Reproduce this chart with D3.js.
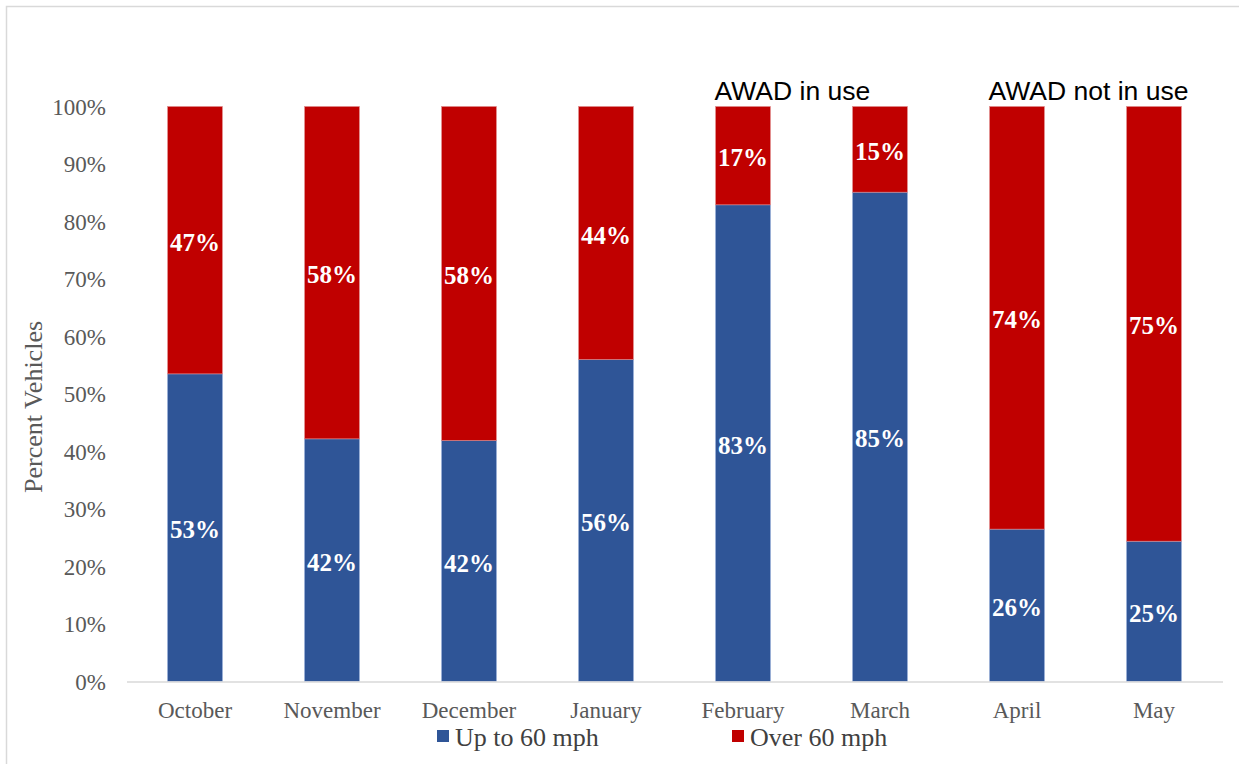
<!DOCTYPE html>
<html>
<head>
<meta charset="utf-8">
<script src="https://cdn.jsdelivr.net/npm/d3@7"></script>
<style>
  html, body { margin: 0; padding: 0; background: #fff; }
  svg { display: block; }
</style>
</head>
<body>
<svg id="chart" width="1239" height="764"></svg>
<script>
const categories = ["October", "November", "December", "January", "February", "March", "April", "May"];
const upTo60 = [53.5, 42.2, 41.9, 56.0, 82.9, 85.1, 26.5, 24.4];
const over60 = [46.5, 57.8, 58.1, 44.0, 17.1, 14.9, 73.5, 75.6];
const upLabels = ["53%", "42%", "42%", "56%", "83%", "85%", "26%", "25%"];
const overLabels = ["47%", "58%", "58%", "44%", "17%", "15%", "74%", "75%"];
const seriesNames = ["Up to 60 mph", "Over 60 mph"];
const yTicks = [0, 10, 20, 30, 40, 50, 60, 70, 80, 90, 100];
const annotations = [
  { text: "AWAD in use", category: "February" },
  { text: "AWAD not in use", category: "April" }
];

const colors = { up: "#2F5597", over: "#C00000" };
const serif = "'Liberation Serif', 'Times New Roman', serif";
const sans = "'Liberation Sans', Arial, sans-serif";

const svg = d3.select("#chart");

// outer chart border
svg.append("rect")
  .attr("x", 6.5).attr("y", 6.5)
  .attr("width", 1250).attr("height", 780)
  .attr("fill", "#fff").attr("stroke", "#d9d9d9").attr("stroke-width", 1.5);

const x = d3.scaleBand()
  .domain(categories)
  .range([126.5, 1222.5])
  .paddingInner(0.6)
  .paddingOuter(0.3);

const y = d3.scaleLinear().domain([0, 100]).range([681.5, 106.5]);

const data = categories.map((c, i) => ({
  cat: c, up: upTo60[i], over: over60[i], upLabel: upLabels[i], overLabel: overLabels[i]
}));

// bars
const g = svg.append("g");
g.selectAll("rect.up").data(data).enter().append("rect")
  .attr("class", "up")
  .attr("x", d => x(d.cat))
  .attr("width", x.bandwidth())
  .attr("y", d => y(d.up))
  .attr("height", d => y(0) - y(d.up))
  .attr("fill", colors.up)
  .attr("stroke", "#8fa8d6").attr("stroke-width", 0.6);

g.selectAll("rect.over").data(data).enter().append("rect")
  .attr("class", "over")
  .attr("x", d => x(d.cat))
  .attr("width", x.bandwidth())
  .attr("y", d => y(d.up + d.over))
  .attr("height", d => y(d.up) - y(d.up + d.over))
  .attr("fill", colors.over)
  .attr("stroke", "#e08a8a").attr("stroke-width", 0.6);

// data labels
g.selectAll("text.upl").data(data).enter().append("text")
  .attr("x", d => x(d.cat) + x.bandwidth() / 2)
  .attr("y", d => (y(0) + y(d.up)) / 2 + 2)
  .attr("text-anchor", "middle")
  .attr("dominant-baseline", "central")
  .attr("font-family", serif).attr("font-weight", "bold").attr("font-size", 25)
  .attr("fill", "#fff")
  .text(d => d.upLabel);

g.selectAll("text.overl").data(data).enter().append("text")
  .attr("x", d => x(d.cat) + x.bandwidth() / 2)
  .attr("y", d => (y(d.up) + y(d.up + d.over)) / 2 + 2)
  .attr("text-anchor", "middle")
  .attr("dominant-baseline", "central")
  .attr("font-family", serif).attr("font-weight", "bold").attr("font-size", 25)
  .attr("fill", "#fff")
  .text(d => d.overLabel);

// x axis
const xAxis = d3.axisBottom(x).tickSize(0).tickPadding(0);
const xg = svg.append("g").attr("transform", `translate(0,${y(0)})`).call(xAxis);
xg.select(".domain").attr("stroke", "#d9d9d9").attr("stroke-width", 1.5);
xg.selectAll(".tick text")
  .attr("y", 36)
  .attr("dy", 0)
  .attr("font-family", serif).attr("font-size", 23).attr("fill", "#595959");

// y axis
const yAxis = d3.axisLeft(y).tickValues(yTicks).tickSize(0).tickPadding(0)
  .tickFormat(d => d + "%");
const yg = svg.append("g").attr("transform", "translate(106,0)").call(yAxis);
yg.select(".domain").remove();
yg.selectAll(".tick text")
  .attr("x", 0)
  .attr("dy", "0.34em")
  .attr("font-family", serif).attr("font-size", 23).attr("fill", "#595959");

// y axis title
svg.append("text")
  .attr("transform", "translate(42,407) rotate(-90)")
  .attr("text-anchor", "middle")
  .attr("font-family", serif).attr("font-size", 26).attr("fill", "#595959")
  .text("Percent Vehicles");

// annotations
svg.selectAll("text.ann").data(annotations).enter().append("text")
  .attr("x", d => x(d.category) - 1)
  .attr("y", 100)
  .attr("font-family", sans).attr("font-size", 26.5).attr("fill", "#000")
  .text(d => d.text);

// legend
const legendItems = [
  { name: seriesNames[0], color: colors.up, x: 437 },
  { name: seriesNames[1], color: colors.over, x: 732 }
];
const lg = svg.selectAll("g.leg").data(legendItems).enter().append("g")
  .attr("transform", d => `translate(${d.x},0)`);
lg.append("rect").attr("x", 0).attr("y", 730).attr("width", 12).attr("height", 12)
  .attr("fill", d => d.color);
lg.append("text").attr("x", 18).attr("y", 746)
  .attr("font-family", serif).attr("font-size", 26).attr("fill", "#404040")
  .text(d => d.name);
</script>
</body>
</html>
